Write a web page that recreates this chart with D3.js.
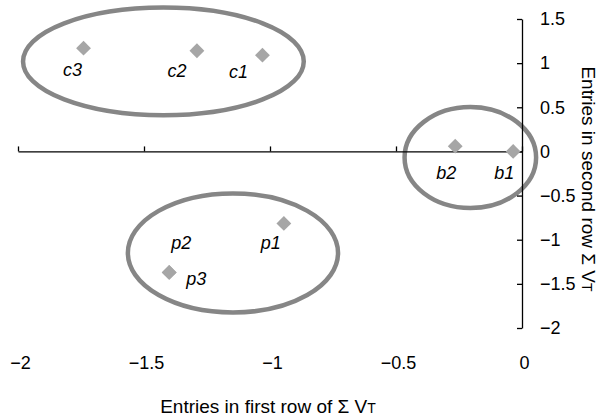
<!DOCTYPE html>
<html>
<head>
<meta charset="utf-8">
<script src="https://cdn.jsdelivr.net/npm/d3@7"></script>
<style>
  body { margin: 0; background: #fff; }
  text { font-family: "Liberation Sans", Arial, sans-serif; }
</style>
</head>
<body>
<svg id="chart" width="607" height="418"></svg>
<script>
// point names and their coordinates (entries of first / second row)
const names = ['c1', 'c2', 'c3', 'b1', 'b2', 'p1', 'p2', 'p3'];
const xVals = [-1.03, -1.29, -1.74, -0.035, -0.265, -0.945, -1.40, -1.40];
const yVals = [1.09, 1.14, 1.17, 0.0, 0.06, -0.815, -1.37, -1.37];

const xTicks = [-2, -1.5, -1, -0.5, 0];
const yTicks = [1.5, 1, 0.5, 0, -0.5, -1, -1.5, -2];

// grouping ellipses: centre and radii in data units
const groupCx = [-1.423, -0.205, -1.147];
const groupCy = [1.02, -0.07, -1.15];
const groupRx = [0.557, 0.261, 0.417];
const groupRy = [0.61, 0.572, 0.674];

// label placement relative to each marker (px)
const labelDx = [-24, -20, -11, -9, -9, -13, 12, 27];
const labelDy = [23, 26, 28, 28, 33, 26, -23, 13];

const svg = d3.select('#chart');

const x = d3.scaleLinear().domain([-2, 0]).range([18, 522]);
const y = d3.scaleLinear().domain([-2, 1.5]).range([328, 19]);

const fmt = d => String(d).replace('-', '\u2212');
const FS = 18;

// ellipses
svg.append('g').selectAll('ellipse')
    .data(groupCx)
    .enter().append('ellipse')
    .attr('cx', (d, i) => x(groupCx[i]))
    .attr('cy', (d, i) => y(groupCy[i]))
    .attr('rx', (d, i) => x(groupRx[i]) - x(0))
    .attr('ry', (d, i) => y(0) - y(groupRy[i]))
    .attr('fill', 'none')
    .attr('stroke', '#868686')
    .attr('stroke-width', 4.5);

// x axis: line with ticks at y = 0
const xAxis = svg.append('g')
    .attr('transform', `translate(0,${y(0)})`)
    .call(d3.axisTop(x).tickValues(xTicks).tickSize(5).tickSizeOuter(0).tickFormat(''));
xAxis.select('.domain').attr('stroke-width', 1.3);
xAxis.selectAll('.tick line').attr('stroke-width', 1.3);

// x tick labels below the plot
svg.append('g')
    .attr('transform', 'translate(2,356)')
    .call(d3.axisBottom(x).tickValues(xTicks).tickSize(0).tickPadding(0).tickFormat(fmt))
    .call(g => g.select('.domain').remove())
    .selectAll('text')
    .attr('font-size', FS)
    .attr('font-family', '"Liberation Sans", Arial, sans-serif');

// y axis at x = 0, labels on the right
const yAxis = svg.append('g')
    .attr('transform', `translate(${x(0)},0)`)
    .call(d3.axisRight(y).tickValues(yTicks).tickSize(-5).tickSizeOuter(0).tickPadding(18).tickFormat(fmt));
yAxis.select('.domain').attr('stroke-width', 1.3);
yAxis.selectAll('.tick line').attr('stroke-width', 1.3);
yAxis.selectAll('text')
    .attr('font-size', FS)
    .attr('font-family', '"Liberation Sans", Arial, sans-serif');

// points
svg.append('g').selectAll('path')
    .data(names)
    .enter().append('path')
    .attr('d', d3.symbol().type(d3.symbolSquare).size(110))
    .attr('transform', (d, i) => `translate(${x(xVals[i])},${y(yVals[i])}) rotate(45)`)
    .attr('fill', '#a6a6a6');

// point labels
svg.append('g').selectAll('text')
    .data(names)
    .enter().append('text')
    .attr('x', (d, i) => x(xVals[i]) + labelDx[i])
    .attr('y', (d, i) => y(yVals[i]) + labelDy[i])
    .attr('text-anchor', 'middle')
    .attr('font-size', FS)
    .attr('font-style', 'italic')
    .text(d => d);

// axis titles
const xt = svg.append('text')
    .attr('x', 268)
    .attr('y', 413)
    .attr('text-anchor', 'middle')
    .attr('font-size', 19)
    .text('Entries in first row of \u03A3 V');
xt.append('tspan').attr('font-size', 14).text('T');

const yt = svg.append('text')
    .attr('transform', 'translate(582,179) rotate(90)')
    .attr('text-anchor', 'middle')
    .attr('font-size', 19)
    .text('Entries in second row \u03A3 V');
yt.append('tspan').attr('font-size', 14).text('T');
</script>
</body>
</html>
